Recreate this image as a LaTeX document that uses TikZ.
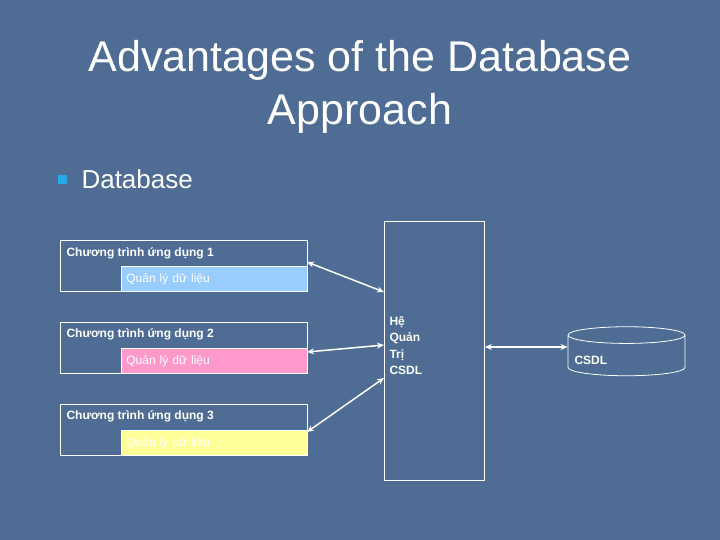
\documentclass[tikz,border=0pt]{standalone}
\usepackage{fontspec}
\setmainfont{Liberation Sans}
\usetikzlibrary{shapes.geometric, arrows.meta}
\definecolor{slidebg}{RGB}{78,108,148}
\definecolor{bulletblue}{RGB}{40,170,230}
\definecolor{appblue}{RGB}{153,204,255}
\definecolor{apppink}{RGB}{255,153,204}
\definecolor{appyellow}{RGB}{255,255,153}
\tikzset{
  appbox/.style={draw=white, thick, minimum width=247pt, minimum height=51pt, anchor=north west},
  databox/.style={draw=white, thick, minimum width=186pt, minimum height=25pt, anchor=south east, text=white, font=\fontsize{12}{14}\selectfont, align=left, text width=176pt},
  applabel/.style={anchor=west, text=white, font=\bfseries\fontsize{12}{14}\selectfont},
  link/.style={white, line width=1.5pt, {Stealth[length=7pt,width=6pt]}-{Stealth[length=7pt,width=6pt]}}
}
\begin{document}
\begin{tikzpicture}[x=1pt, y=-1pt]
	\fill[slidebg] (0,0) rectangle (720,540);

	\node[text=white, align=center, font=\fontsize{43}{53}\selectfont] (title) at (360,87) {Advantages of the Database\\Approach};
	\fill[bulletblue] (58,175) rectangle (67,184);
	\node[anchor=west, text=white, font=\fontsize{26}{30}\selectfont] (bullet) at (78,179) {Database};

	\node[appbox] (app1) at (60,240) {};
	\node[appbox] (app2) at (60,322) {};
	\node[appbox] (app3) at (60,404) {};
	\node[databox, fill=appblue] (data1) at (app1.south east) {Quản lý dữ liệu};
	\node[databox, fill=apppink] (data2) at (app2.south east) {Quản lý dữ liệu};
	\node[databox, fill=appyellow] (data3) at (app3.south east) {Quản lý dữ liệu};
	\node[applabel] at (63,253) {Chương trình ứng dụng 1};
	\node[applabel] at (63,334) {Chương trình ứng dụng 2};
	\node[applabel] at (63,416) {Chương trình ứng dụng 3};

	\node[draw=white, thick, minimum width=100pt, minimum height=259pt, anchor=north west] (dbms) at (384,221) {};
	\node[anchor=north west, text=white, align=left, font=\bfseries\fontsize{12}{16.5}\selectfont] (dbmslabel) at (386,313) {Hệ\\Quản\\Trị\\CSDL};

	\node[cylinder, shape border rotate=90, draw=white, thick, aspect=2.5, minimum width=117pt, minimum height=49pt] (csdl) at (626.5,357) {};
	\node[anchor=west, text=white, font=\bfseries\fontsize{12}{14}\selectfont] (csdllabel) at (571,360) {CSDL};

	\coordinate (a1) at (307,262);
	\coordinate (a2) at (307,352);
	\coordinate (a3) at (307,432);
	\draw[link] (a1) -- (384,292);
	\draw[link] (a2) -- (384,345);
	\draw[link] (a3) -- (384,378);
	\draw[link] (dbms.east |- 0,347) -- (csdl.west |- 0,347);
\end{tikzpicture}
\end{document}
